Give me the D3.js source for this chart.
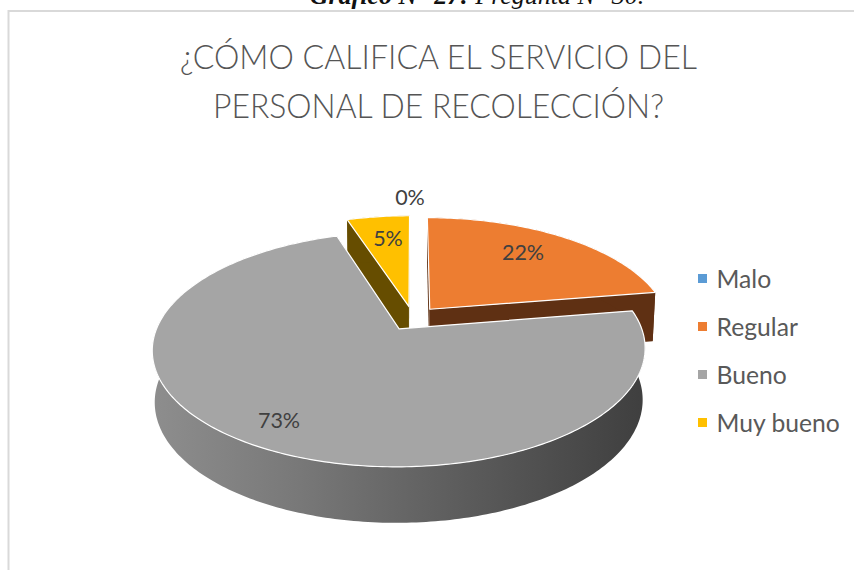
<!DOCTYPE html>
<html><head><meta charset="utf-8">
<script src="https://cdn.jsdelivr.net/npm/d3@7/dist/d3.min.js"></script>
<style>html,body{margin:0;background:#fff}svg{display:block}</style></head>
<body><svg id="c" width="854" height="570"></svg>
<script>
const categories = ["Malo","Regular","Bueno","Muy bueno"];
const values = [0, 22.4, 72.6, 5];
const labels = ["0%","22%","73%","5%"];
const colors = ["#5b9bd5","#ed7d31","#a5a5a5","#ffc000"];
const wallColors = ["#2f5d86","#5f3013","#666","#664d00"];
const titleLines = ["¿CÓMO CALIFICA EL SERVICIO DEL","PERSONAL DE RECOLECCIÓN?"];
const titleWidths = [517,451];

const svg = d3.select("#c");
// projection of the tilted pie plane (disc units) to the screen
const P = {x0:413,y0:318.35,a:110.2,b:238.7,k:.172,e:.11,shrink:.99,vx:399,h0:50.3,h1:5.2};
function proj(u,v,low){
  const w = 1+P.k*v;
  const X = P.x0+P.b*u/w, Y = P.y0-P.a*v/w;
  return low ? [P.vx+(X-P.vx)*P.shrink, Y+P.h0-P.h1*v] : [X,Y];
}
const arcs = d3.pie().sort(null).value(d=>d)(values);
function geom(d){
  const mid=(d.startAngle+d.endAngle)/2;
  const uc=P.e*Math.sin(mid), vc=P.e*Math.cos(mid);
  const n=Math.max(2,Math.ceil((d.endAngle-d.startAngle)*60));
  const angs=d3.range(n+1).map(i=>d.startAngle+(d.endAngle-d.startAngle)*i/n);
  const pt=(t,low)=>proj(uc+Math.sin(t),vc+Math.cos(t),low);
  return {apex:proj(uc,vc),apexLow:proj(uc,vc,true),angs,pt};
}
const line=d3.line();
const defs=svg.append("defs");
const grad=defs.append("linearGradient").attr("id","gw").attr("gradientUnits","userSpaceOnUse")
  .attr("x1",150).attr("x2",650).attr("y1",0).attr("y2",0);
[[0,"#8e8e8e"],[.3,"#787878"],[.6,"#5e5e5e"],[1,"#3e3e3e"]].forEach(s=>grad.append("stop").attr("offset",s[0]).attr("stop-color",s[1]));

// frame and page caption
svg.append("path").attr("d","M8.5,570V11H854").attr("fill","none").attr("stroke","#d9d9d9").attr("stroke-width",2);
const cap=svg.append("text").attr("x",477).attr("y",4).attr("text-anchor","middle")
  .attr("font-family","Liberation Serif").attr("font-size",26).attr("font-style","italic").attr("fill","#111");
cap.append("tspan").attr("font-weight","bold").text("Gráfico N° 27:");
cap.append("tspan").text(" Pregunta N° 30.");

// title
svg.selectAll("text.t").data(titleLines).join("text").attr("class","t")
  .attr("x",438.5).attr("y",(d,i)=>68.5+i*49).attr("text-anchor","middle")
  .attr("textLength",(d,i)=>titleWidths[i]).attr("lengthAdjust","spacingAndGlyphs")
  .attr("font-family","Lato").attr("font-weight",300).attr("font-size",34).attr("fill","#555").text(d=>d);

// slices, far to near
const order=[1,3,2];
order.forEach(i=>{
  const d=arcs[i], g=geom(d), wall=i===2?"url(#gw)":wallColors[i];
  const outer=g.angs.map(t=>g.pt(t)).concat(g.angs.slice().reverse().map(t=>g.pt(t,true)));
  const first=g.angs[0], last=g.angs[g.angs.length-1];
  const face1=[g.apex,g.pt(first),g.pt(first,true),g.apexLow];
  const face2=[g.apex,g.pt(last),g.pt(last,true),g.apexLow];
  [face1,face2].forEach(f=>svg.append("path").attr("d",line(f)+"Z").attr("fill",wallColors[i]));
  svg.append("path").attr("d",line(outer)+"Z").attr("fill",wall);
  const top=[g.apex].concat(g.angs.map(t=>g.pt(t)));
  svg.append("path").attr("d",line(top)+"Z").attr("fill",colors[i]).attr("stroke","#fff").attr("stroke-width",1.2).attr("stroke-linejoin","round");
});

// data labels
const labelPos=[[410,197],[523,252],[279,420],[388,238]];
svg.selectAll("text.l").data(labels).join("text").attr("class","l")
  .attr("x",(d,i)=>labelPos[i][0]).attr("y",(d,i)=>labelPos[i][1]).attr("dy",".35em").attr("text-anchor","middle")
  .attr("font-family","Lato").attr("font-size",21.5).attr("fill","#404040").text(d=>d);

// legend
const ly=d3.scalePoint().domain(categories).range([279,423]);
const lg=svg.selectAll("g.lg").data(categories).join("g").attr("class","lg").attr("transform",d=>`translate(698,${ly(d)})`);
lg.append("rect").attr("x",0).attr("y",-5).attr("width",9).attr("height",9).attr("fill",(d,i)=>colors[i]);
lg.append("text").attr("x",18.5).attr("dy",".35em").attr("font-family","Lato").attr("font-size",24.7).attr("fill","#595959").text(d=>d);
</script></body></html>
